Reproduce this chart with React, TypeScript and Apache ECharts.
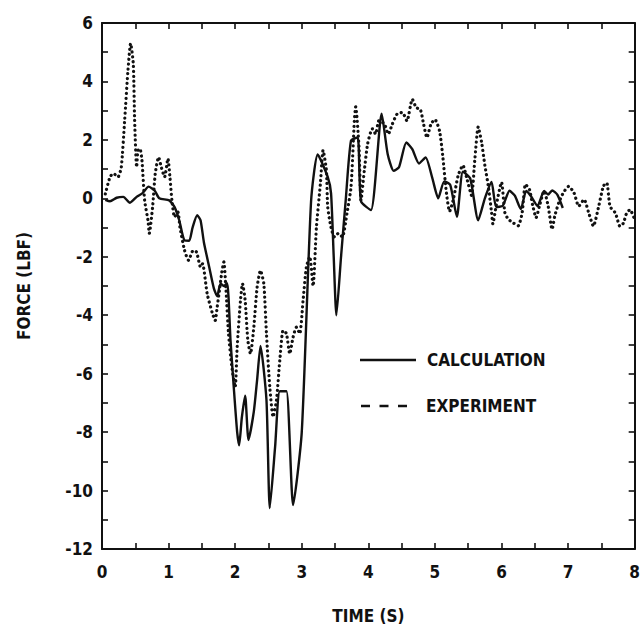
import React, { useEffect, useRef } from "react";
import * as echarts from "echarts";

const calcTime = [0.05, 0.12, 0.22, 0.32, 0.42, 0.52, 0.61, 0.7, 0.79, 0.86, 1.01, 1.09, 1.16, 1.24, 1.31, 1.36, 1.43, 1.48, 1.53, 1.61, 1.68, 1.73, 1.78, 1.83, 1.88, 1.93, 1.98, 2.03, 2.06, 2.1, 2.15, 2.2, 2.28, 2.33, 2.38, 2.47, 2.52, 2.6, 2.67, 2.77, 2.87, 3.0, 3.14, 3.24, 3.39, 3.44, 3.48, 3.52, 3.59, 3.66, 3.74, 3.84, 3.89, 4.04, 4.2, 4.29, 4.38, 4.46, 4.57, 4.66, 4.76, 4.86, 4.96, 5.05, 5.14, 5.23, 5.33, 5.42, 5.53, 5.65, 5.75, 5.85, 5.92, 6.02, 6.12, 6.2, 6.29, 6.37, 6.44, 6.54, 6.64, 6.7, 6.76, 6.84, 6.92];
const calcForce = [-0.05, -0.1, 0.02, 0.05, -0.15, 0.05, 0.18, 0.4, 0.27, 0.0, -0.07, -0.3, -0.75, -1.44, -1.45, -1.0, -0.58, -0.75, -1.5, -2.35, -3.08, -3.35, -2.92, -3.0, -2.9, -4.86, -6.5, -8.0, -8.45, -7.5, -6.75, -8.27, -7.3, -6.2, -5.05, -6.9, -10.6, -8.5, -6.6, -6.6, -10.5, -8.0, -0.1, 1.5, 0.73, 0.17, -2.0, -4.0, -2.0, -0.07, 1.98, 2.08, -0.1, -0.4, 2.9, 1.52, 0.94, 1.06, 1.91, 1.68, 1.19, 1.4, 0.7, 0.0, 0.58, 0.46, -0.63, 0.91, 0.68, -0.75, 0.0, 0.56, -0.3, -0.25, 0.26, 0.09, -0.37, 0.25, 0.08, -0.26, 0.25, 0.13, 0.27, 0.12, -0.33];

const expTime = [0.05, 0.12, 0.17, 0.24, 0.29, 0.34, 0.39, 0.43, 0.47, 0.49, 0.52, 0.54, 0.57, 0.6, 0.64, 0.69, 0.71, 0.76, 0.8, 0.85, 0.89, 0.94, 0.99, 1.02, 1.05, 1.09, 1.14, 1.17, 1.24, 1.3, 1.37, 1.42, 1.48, 1.51, 1.58, 1.66, 1.7, 1.73, 1.77, 1.8, 1.83, 1.86, 1.9, 1.95, 2.0, 2.03, 2.08, 2.11, 2.15, 2.19, 2.23, 2.28, 2.33, 2.38, 2.43, 2.47, 2.52, 2.57, 2.62, 2.67, 2.72, 2.77, 2.82, 2.87, 2.92, 2.97, 3.02, 3.07, 3.12, 3.17, 3.22, 3.28, 3.32, 3.37, 3.39, 3.44, 3.49, 3.55, 3.61, 3.68, 3.74, 3.79, 3.81, 3.86, 3.89, 3.94, 3.99, 4.06, 4.11, 4.16, 4.24, 4.3, 4.36, 4.43, 4.51, 4.58, 4.66, 4.72, 4.78, 4.83, 4.88, 4.94, 5.0, 5.07, 5.12, 5.17, 5.22, 5.28, 5.35, 5.42, 5.48, 5.55, 5.6, 5.65, 5.7, 5.75, 5.8, 5.85, 5.87, 5.92, 6.0, 6.05, 6.1, 6.17, 6.25, 6.31, 6.36, 6.42, 6.47, 6.52, 6.57, 6.64, 6.7, 6.76, 6.8, 6.86, 6.93, 7.01, 7.09, 7.16, 7.24, 7.31, 7.38, 7.46, 7.53, 7.58, 7.63, 7.71, 7.78, 7.83, 7.88, 7.93, 8.0];
const expForce = [0.15, 0.73, 0.85, 0.73, 1.07, 2.67, 4.38, 5.3, 4.6, 2.67, 1.07, 1.64, 1.7, 1.3, -0.07, -0.75, -1.2, -0.3, 0.85, 1.41, 1.07, 0.73, 1.36, 0.73, -0.07, -0.64, -0.47, -0.98, -1.78, -2.12, -1.78, -1.84, -2.35, -2.24, -3.27, -3.95, -4.18, -3.72, -3.04, -2.52, -2.18, -3.04, -4.63, -5.77, -6.46, -5.09, -3.49, -2.92, -3.49, -4.86, -5.32, -4.41, -3.04, -2.47, -2.92, -4.63, -6.46, -7.48, -6.92, -5.55, -4.52, -4.63, -5.32, -4.75, -4.41, -4.63, -3.49, -2.35, -2.0, -3.0, -1.0, 0.5, 1.64, 0.96, -0.3, -1.0, -1.32, -1.2, -1.32, -0.5, 0.39, 2.67, 3.13, 1.76, -0.07, 0.96, 1.87, 2.38, 2.2, 2.66, 2.55, 2.2, 2.54, 2.88, 2.94, 2.65, 3.39, 3.1, 3.05, 2.54, 2.08, 2.54, 2.7, 2.3, 1.39, 0.24, -0.45, 0.0, 0.79, 1.13, 0.67, 0.1, 1.35, 2.44, 1.93, 1.13, 0.44, -0.47, -0.87, -0.25, 0.55, -0.48, -0.71, -0.83, -0.94, -0.49, 0.48, 0.3, -0.26, -0.66, -0.26, 0.25, -0.26, -1.06, -0.6, -0.15, 0.2, 0.41, 0.18, -0.27, -0.04, -0.5, -0.95, -0.27, 0.42, 0.53, -0.28, -0.5, -0.96, -0.85, -0.5, -0.39, -0.73];

const seriesNames = ["CALCULATION", "EXPERIMENT"];
const xTitle = "TIME (S)";
const yTitle = "FORCE (LBF)";

const FONT = "'DejaVu Sans Condensed', 'DejaVu Sans', sans-serif";
const INK = "#111";

export default function App() {
  const ref = useRef<HTMLDivElement>(null);
  useEffect(() => {
    if (!ref.current) return;
    const chart = echarts.init(ref.current, undefined, { renderer: "svg" });
    const calc = calcTime.map((t, i) => [t, calcForce[i]]);
    const exp = expTime.map((t, i) => [t, expForce[i]]);
    const axisLine = { show: true, onZero: false, lineStyle: { color: INK, width: 2 } };
    const tick = { show: true, inside: true, length: 6, lineStyle: { color: INK, width: 1.6 } };
    const labelStyle = { color: INK, fontSize: 17, fontFamily: FONT, fontWeight: "bold" as const };
    chart.setOption({
      animation: false,
      backgroundColor: "#fff",
      grid: { left: 102, right: 3, top: 23, bottom: 81, containLabel: false },
      xAxis: [
        {
          type: "value", min: 0, max: 8, interval: 0.5, position: "bottom",
          axisLine, axisTick: tick, splitLine: { show: false },
          axisLabel: { ...labelStyle, margin: 14, formatter: (v: number) => (Number.isInteger(v) ? String(v) : "") },
          name: xTitle, nameLocation: "middle", nameGap: 58,
          nameTextStyle: { ...labelStyle },
        },
        {
          type: "value", min: 0, max: 8, interval: 0.5, position: "top",
          axisLine, axisTick: tick, splitLine: { show: false }, axisLabel: { show: false },
        },
      ],
      yAxis: [
        {
          type: "value", min: -12, max: 6, interval: 1, position: "left",
          axisLine, axisTick: tick, splitLine: { show: false },
          axisLabel: { ...labelStyle, margin: 9, formatter: (v: number) => (v % 2 === 0 ? String(v) : "") },
          name: yTitle, nameLocation: "middle", nameGap: 70, nameRotate: 90,
          nameTextStyle: { ...labelStyle },
        },
        {
          type: "value", min: -12, max: 6, interval: 1, position: "right",
          axisLine, axisTick: tick, splitLine: { show: false }, axisLabel: { show: false },
        },
      ],
      series: [
        {
          name: seriesNames[0], type: "line", data: calc, showSymbol: false, smooth: 0.2,
          lineStyle: { color: INK, width: 2.4 }, xAxisIndex: 0, yAxisIndex: 0,
        },
        {
          name: seriesNames[1], type: "line", data: exp, showSymbol: false, smooth: 0.2,
          lineStyle: { color: INK, width: 3.2, type: [0.1, 4.8], cap: "round" }, xAxisIndex: 0, yAxisIndex: 0,
        },
      ],
      graphic: [
        { type: "line", shape: { x1: 360, y1: 360, x2: 416, y2: 360 }, style: { stroke: INK, lineWidth: 2.4 } },
        { type: "text", x: 427, y: 360, style: { text: seriesNames[0], fill: INK, font: `bold 17px ${FONT}`, verticalAlign: "middle", align: "left" } },
        { type: "line", shape: { x1: 361, y1: 406, x2: 416, y2: 406 }, style: { stroke: INK, lineWidth: 2.4, lineDash: [9, 9.5] } },
        { type: "text", x: 426, y: 406, style: { text: seriesNames[1], fill: INK, font: `bold 17px ${FONT}`, verticalAlign: "middle", align: "left" } },
      ],
    });
    return () => chart.dispose();
  }, []);
  return <div ref={ref} style={{ position: "fixed", left: 0, top: 0, width: 643, height: 630, background: "#fff" }} />;
}
